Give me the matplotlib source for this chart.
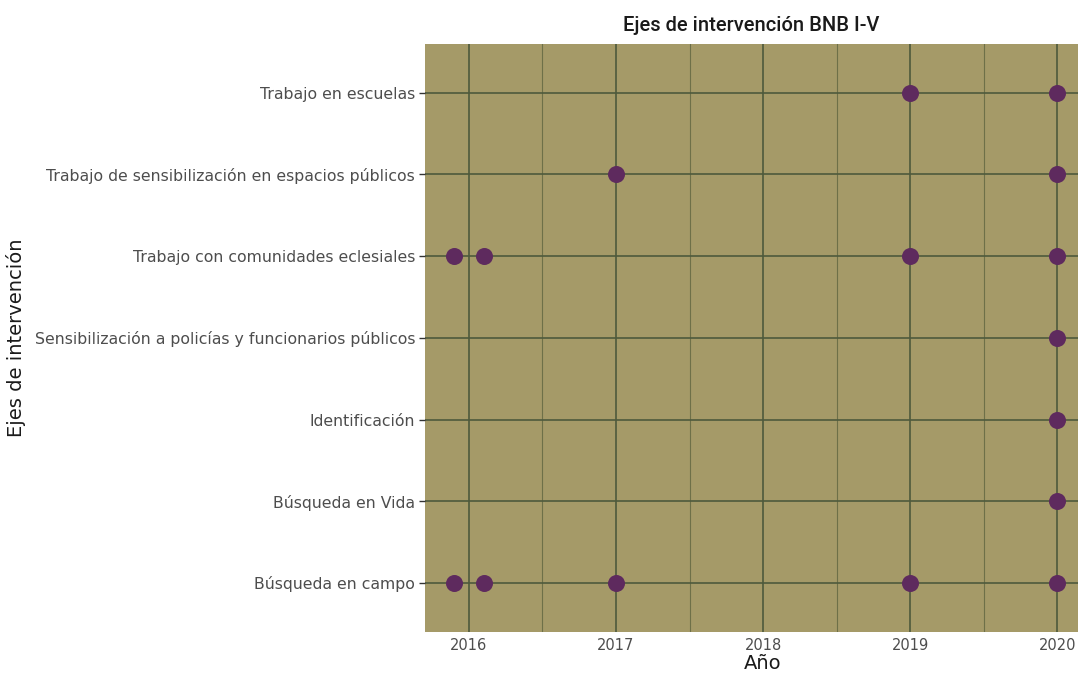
import matplotlib
matplotlib.use("Agg")
import matplotlib.pyplot as plt
import numpy as np

categories = [
    "Búsqueda en campo",
    "Búsqueda en Vida",
    "Identificación",
    "Sensibilización a policías y funcionarios públicos",
    "Trabajo con comunidades eclesiales",
    "Trabajo de sensibilización en espacios públicos",
    "Trabajo en escuelas",
]
years = {
    "Búsqueda en campo": [2015.9, 2016.1, 2017, 2019, 2020],
    "Búsqueda en Vida": [2020],
    "Identificación": [2020],
    "Sensibilización a policías y funcionarios públicos": [2020],
    "Trabajo con comunidades eclesiales": [2015.9, 2016.1, 2019, 2020],
    "Trabajo de sensibilización en espacios públicos": [2017, 2020],
    "Trabajo en escuelas": [2019, 2020],
}
xticks = [2016, 2017, 2018, 2019, 2020]

fig = plt.figure(figsize=(10.78, 6.73), dpi=100)
ax = fig.add_axes([0.394, 0.061, 0.606, 0.874])
ax.set_facecolor("#a59a68")

for i, c in enumerate(categories):
    xs = years[c]
    ax.scatter(xs, [i] * len(xs), s=150, color="#5e2a5e", zorder=3, linewidths=0)

ax.set_xlim(2015.7, 2020.14)
ax.set_ylim(-0.6, 6.6)
ax.set_xticks(xticks)
ax.set_xticks([2016.5, 2017.5, 2018.5, 2019.5], minor=True)
ax.set_yticks(range(len(categories)))
ax.set_yticklabels(categories)
ax.grid(True, which="major", color="#4e5a3c", linewidth=1.2, zorder=1)
ax.grid(True, which="minor", axis="x", color="#6e7048", linewidth=0.8, zorder=1)
ax.set_axisbelow(True)
for s in ax.spines.values():
    s.set_visible(False)
ax.tick_params(axis="both", which="major", colors="#333333", labelcolor="#4d4d4d",
               labelsize=11.3, length=4, width=1)
ax.tick_params(axis="x", which="major", length=0, pad=4, labelsize=10.5)
ax.tick_params(axis="x", which="minor", length=0)
ax.tick_params(axis="y", length=4, pad=3)

ax.set_xlabel("Año", fontsize=14, color="#1a1a1a")
ax.xaxis.set_label_coords(0.517, -0.037)
ax.set_ylabel("Ejes de intervención", fontsize=14, color="#1a1a1a")
ax.yaxis.set_label_coords(-0.611, 0.5)
ax.set_title("Ejes de intervención BNB I-V", fontsize=14.5,
             family=["Roboto", "DejaVu Sans"], weight="medium", color="#1a1a1a", pad=9)

fig.savefig("out.png", dpi=100)
